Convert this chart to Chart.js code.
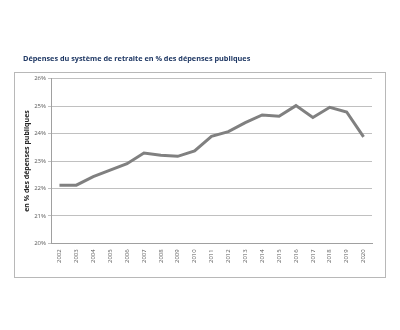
<!DOCTYPE html>
<html>
<head>
<meta charset="utf-8">
<script src="https://cdn.jsdelivr.net/npm/chart.js@4"></script>
<style>
  html, body { margin: 0; padding: 0; background: #fff; }
  #wrap { width: 400px; height: 330px; position: relative; }
</style>
</head>
<body>
<div id="wrap"><canvas id="chart" width="400" height="330"></canvas></div>
<script>
const years = ["2002","2003","2004","2005","2006","2007","2008","2009","2010","2011",
  "2012","2013","2014","2015","2016","2017","2018","2019","2020"];
const shareSpending = [22.12, 22.12, 22.43, 22.67, 22.9, 23.29, 23.21, 23.17, 23.37, 23.9,
  24.07, 24.4, 24.68, 24.63, 25.02, 24.59, 24.96, 24.79, 23.88];
const titleText = "Dépenses du système de retraite en % des dépenses publiques";
const yAxisTitle = "en % des dépenses publiques";

// light grey frame around the plot, like the source image
const framePlugin = {
  id: "frame",
  beforeDraw(chart) {
    const ctx = chart.ctx;
    ctx.save();
    ctx.strokeStyle = "#b8b8b8";
    ctx.lineWidth = 1;
    ctx.strokeRect(14.5, 72.5, 371, 205);
    ctx.restore();
  },
};

new Chart(document.getElementById("chart"), {
  type: "line",
  data: {
    labels: years,
    datasets: [{
      data: shareSpending,
      borderColor: "#808080",
      borderWidth: 3,
      pointRadius: 0,
      tension: 0,
    }],
  },
  options: {
    responsive: false,
    animation: false,
    layout: { padding: { left: 23, right: 28, top: 0, bottom: 64 } },
    plugins: {
      legend: { display: false },
      tooltip: { enabled: false },
      title: {
        display: true,
        text: titleText,
        align: "start",
        color: "#1f3864",
        font: { family: "Open Sans", size: 7.3, weight: "bold" },
        padding: { top: 55, bottom: 15 },
      },
    },
    scales: {
      x: {
        offset: true,
        grid: { display: false, offset: true, drawOnChartArea: false, tickLength: 3 },
        border: { color: "#a0a0a0" },
        ticks: {
          color: "#595959",
          font: { family: "Open Sans", size: 6 },
          maxRotation: 90,
          minRotation: 90,
          autoSkip: false,
          padding: 3,
        },
      },
      y: {
        min: 20,
        max: 26,
        afterFit: (scale) => { scale.width = 28; },
        ticks: {
          stepSize: 1,
          color: "#595959",
          font: { family: "Open Sans", size: 6 },
          callback: (v) => v + "%",
          padding: 2,
        },
        grid: { color: "#c0c0c0", lineWidth: 1, tickLength: 3 },
        border: { color: "#a0a0a0" },
        title: {
          display: true,
          text: yAxisTitle,
          color: "#262626",
          font: { family: "Open Sans", size: 7, weight: "bold" },
          padding: { top: 0, bottom: 2 },
        },
      },
    },
  },
  plugins: [framePlugin],
});
</script>
</body>
</html>
